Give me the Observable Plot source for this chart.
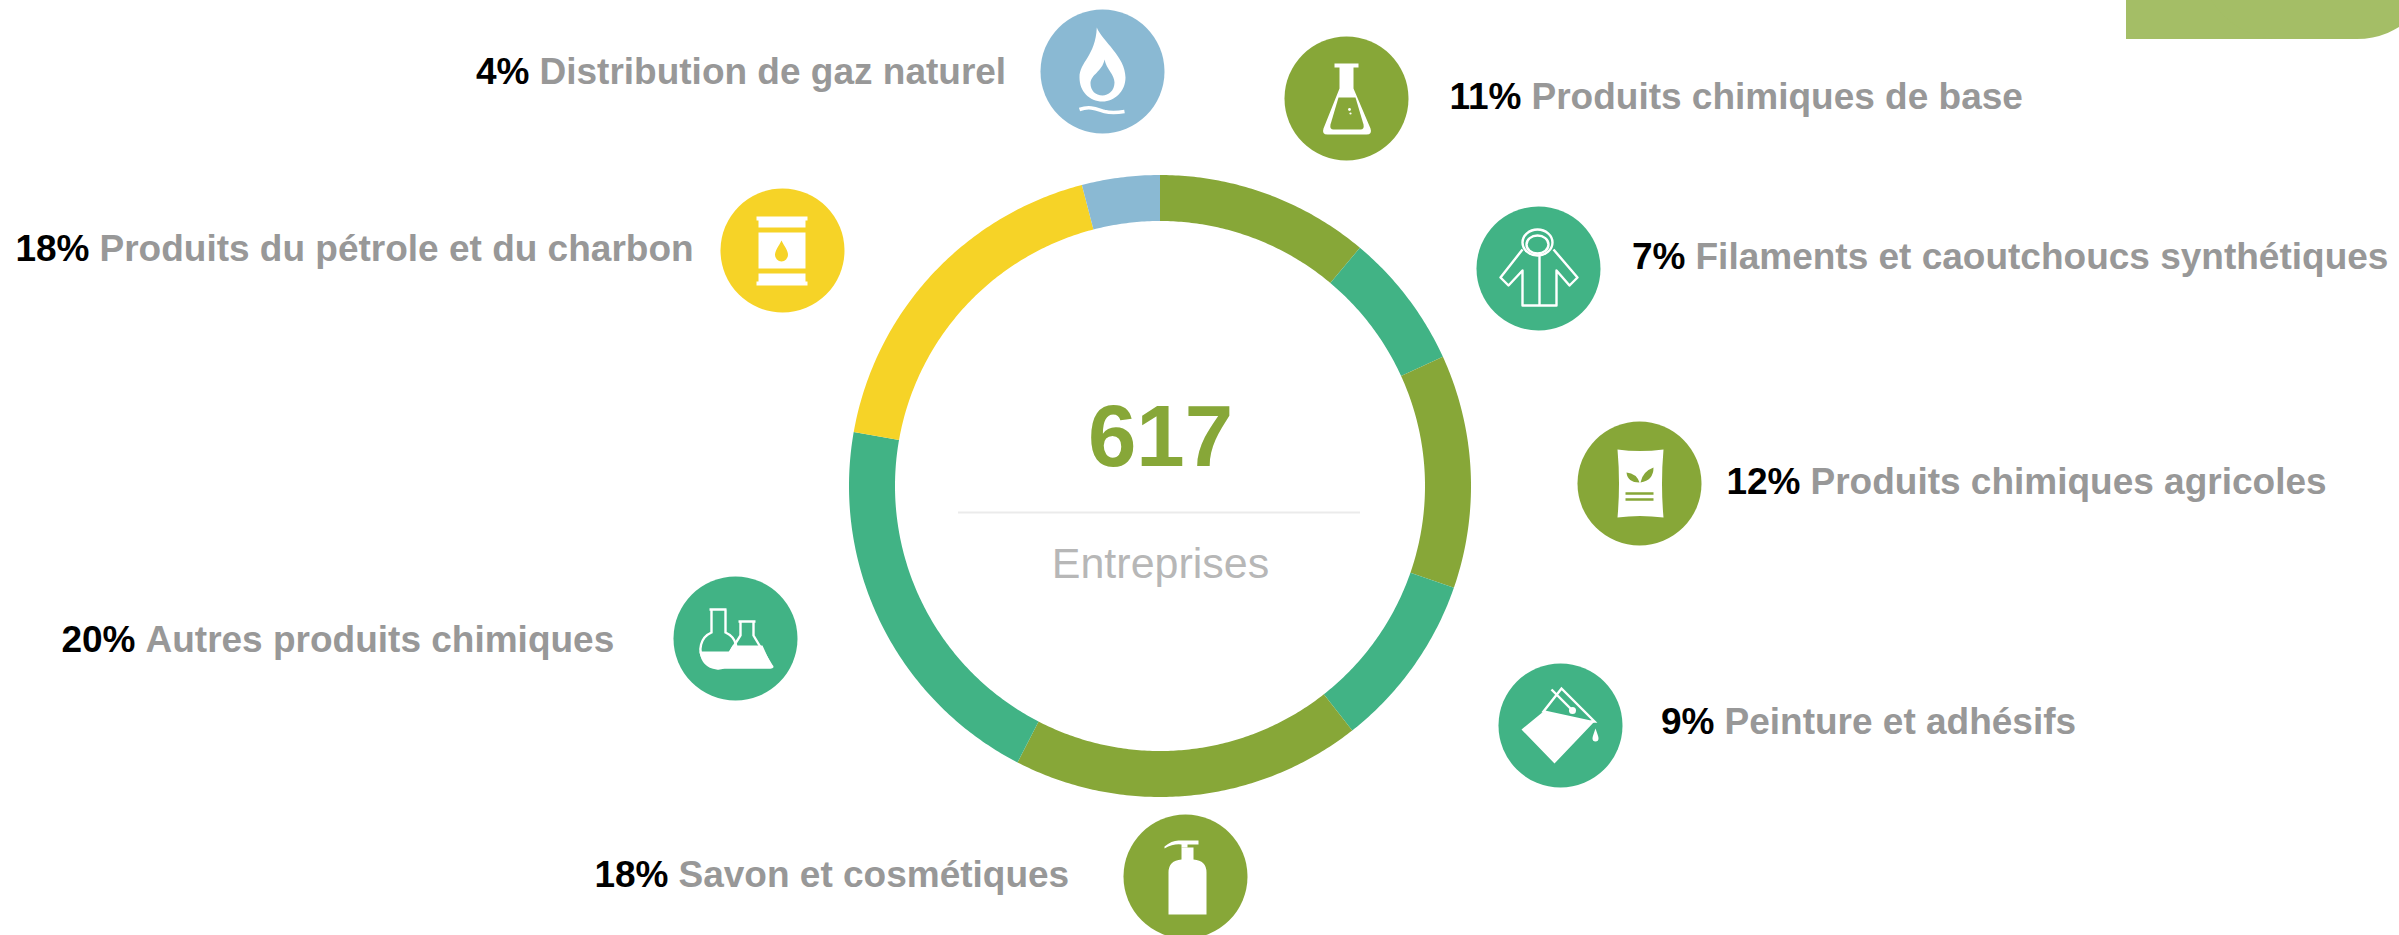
<!DOCTYPE html>
<html><head><meta charset="utf-8">
<script src="https://cdn.jsdelivr.net/npm/d3@7"></script>
<script src="https://cdn.jsdelivr.net/npm/@observablehq/plot@0.6"></script>
<style>html,body{margin:0;padding:0;background:#fff;overflow:hidden}svg{display:block}</style>
</head><body><div id="chart"></div>
<script>
const categories = ["Produits chimiques de base","Filaments et caoutchoucs synthétiques","Produits chimiques agricoles","Peinture et adhésifs","Savon et cosmétiques","Autres produits chimiques","Produits du pétrole et du charbon","Distribution de gaz naturel"];
const shares = [11,7,12,9,18,20,18,4];
const colors = ["#87a738","#41b385","#87a738","#41b385","#87a738","#41b385","#f6d327","#8ab9d3"];
const total = "617";
const totalLabel = "Entreprises";

// layout (pixels of the page)
const W=2399,H=935,cx=1160,cy=486,R0=265,R1=311;
const iconXY=[[1346,98],[1538,268],[1639,483],[1560,725],[1185,876],[735,638],[782,250],[1102,71]];
const labelXY=[[1531,97],[1695,257],[1810,482],[1724,722],[678,875],[145,640],[99,249],[539,72]];

const iconSvg=[
 // flask
 c=>`<path d="M-12 -35H12V-31H7V-10L24 30Q26 36 20 36H-19Q-25 36 -23 30L-7 -10V-31H-12Z" fill="#fff"/><path d="M-8 -1H9L17 26Q18 31 14 31H-13Q-17 31 -16 26Z" fill="${c}"/><circle cx="3" cy="11" r="1.4" fill="#fff"/><circle cx="4" cy="15" r="1.1" fill="#fff"/>`,
 // jacket
 c=>`<g fill="none" stroke="#fff" stroke-width="2.4" stroke-linejoin="round"><ellipse cx="-1" cy="-26" rx="15" ry="13"/><ellipse cx="-1" cy="-24" rx="11" ry="9"/><path d="M-16 -19L-38 9L-30 17L-16 2V37H18V2L31 17L39 9L15 -19M1 -14V37"/></g>`,
 // fertiliser bag
 c=>`<path d="M-22 -34Q0 -31 24 -34Q21 0 24 34Q0 31 -22 34Q-19 0 -22 -34Z" fill="#fff"/><path d="M0 -1Q-12 -1 -13 -11Q-3 -10 0 -1ZM1 -1Q3 -12 14 -16Q14 -3 1 -1Z" fill="${c}"/><path d="M-14 10H14M-14 16H14" stroke="${c}" stroke-width="2.4"/>`,
 // paint bucket
 c=>`<path d="M-17 -14L29 -4L34 -4L-6 38L-39 4Z" fill="#fff"/><path d="M1 -37L34 -4L29 -4L-17 -14Z" fill="none" stroke="#fff" stroke-width="2.4"/><path d="M-9 -36L12 -15" stroke="#fff" stroke-width="2.4"/><circle cx="12" cy="-15" r="3.5" fill="#fff"/><path d="M35 3C37 9 38 11 38 13A3 3 0 0 1 32 13C32 11 33 9 35 3Z" fill="#fff"/>`,
 // soap
 c=>`<path d="M-17 38V-4Q-17 -16 -4 -17V-29H8V-17Q21 -16 21 -4V38Z" fill="#fff"/><path d="M-21 -30Q-14 -36 -7 -36H13V-32H2V-29H-4V-32Q-12 -33 -21 -28Z" fill="#fff"/>`,
 // two flasks
 c=>`<g fill="none" stroke="#fff" stroke-width="2.4"><path d="M-26 -29H-9M-24 -29V-6A18 18 0 1 0 -10 -6V-29"/><path d="M3 -17H20M5 -17V-3L-14 27Q-15 29 -12 29H35Q38 29 36 27L18 -3V-17"/></g><path d="M-36 13H-3Q-2 22 -8 28Q-14 32 -19 31Q-34 29 -36 13Z" fill="#fff"/><path d="M-3 7H27L36 27Q37 29 35 29H-12Q-15 29 -14 27Z" fill="#fff"/>`,
 // barrel
 c=>`<path d="M-26 -34H25V-30H23V-23H-24V-30H-26ZM-24 -18H23V18H-24ZM-24 23H23V31H25V35H-26V31H-24Z" fill="#fff"/><path d="M-1 -10C2 -4 5.5 0 5.5 4.5A6.5 6.5 0 0 1 -7.5 4.5C-7.5 0 -4 -4 -1 -10Z" fill="${c}"/>`,
 // gas flame
 c=>`<path fill="#fff" fill-rule="evenodd" d="M-5.7 -44C0 -30 23 -15 23 6C23 20 12 30 0 30C-13 30 -23 20 -23 6C-23 -10 -7 -15 -5.7 -44ZM2 -12C0 0 -12 3 -12 12C-12 19 -7 24 0 24C6 24 12 19 12 11C12 3 4 -2 2 -12Z"/><path d="M-23 38C-12 34 -5 38 2 40C10 42 16 41 22 40" fill="none" stroke="#fff" stroke-width="3.5"/>`
];
const iconURI=(i)=>"data:image/svg+xml,"+encodeURIComponent(`<svg xmlns="http://www.w3.org/2000/svg" viewBox="-62 -62 124 124" width="124" height="124">${iconSvg[i](colors[i])}</svg>`);

const sum=d3.sum(shares);
let acc=0;
const ring=[];
shares.forEach((s,i)=>{
  const a0=acc/sum*2*Math.PI, a1=(acc+s)/sum*2*Math.PI; acc+=s;
  const n=Math.max(2,Math.ceil((a1-a0)/0.01));
  for(let k=0;k<=n;k++){
    const a=a0+(a1-a0)*k/n;
    ring.push({category:categories[i],x1:cx+R1*Math.sin(a),y1:cy-R1*Math.cos(a),x2:cx+R0*Math.sin(a),y2:cy-R0*Math.cos(a)});
  }
});
const rows=categories.map((c,i)=>({category:c,share:shares[i],ix:iconXY[i][0],iy:iconXY[i][1],lx:labelXY[i][0],ly:labelXY[i][1],src:iconURI(i)}));
const FONT="'Liberation Sans',Arial,sans-serif";

const plot=Plot.plot({
  width:W,height:H,margin:0,style:{fontFamily:FONT,background:"#fff"},
  x:{domain:[0,W],range:[0,W],axis:null},
  y:{domain:[0,H],range:[0,H],axis:null},
  color:{domain:categories,range:colors},
  marks:[
    Plot.rect([{x1:2126,x2:2300,y1:0,y2:39}],{x1:"x1",x2:"x2",y1:"y1",y2:"y2",fill:"#a4be66"}),
    Plot.rect([{x1:2200,x2:2437,y1:-130,y2:39}],{x1:"x1",x2:"x2",y1:"y1",y2:"y2",fill:"#a4be66",rx:80}),
    Plot.area(ring,{x1:"x1",y1:"y1",x2:"x2",y2:"y2",z:"category",fill:"category",curve:"linear"}),
    Plot.ruleY([512],{x1:958,x2:1360,stroke:"#ebebeb",strokeWidth:2}),
    Plot.text([total],{x:1160,y:438,text:d=>d,fontSize:87,fontWeight:"bold",fill:"#87a738"}),
    Plot.text([totalLabel],{x:1160,y:564,text:d=>d,fontSize:43,fill:"#b7b7b7"}),
    Plot.dot(rows,{x:"ix",y:"iy",r:62,fill:"category"}),
    Plot.image(rows,{x:"ix",y:"iy",src:"src",width:124,height:124}),
    Plot.text(rows,{x:d=>d.lx-10,y:"ly",text:d=>d.share+"%",textAnchor:"end",fontSize:37,fontWeight:"bold",fill:"#000"}),
    Plot.text(rows,{x:"lx",y:"ly",text:"category",textAnchor:"start",fontSize:37,fontWeight:"bold",fill:"#989898"})
  ]
});
document.getElementById("chart").append(plot);
</script></body></html>
